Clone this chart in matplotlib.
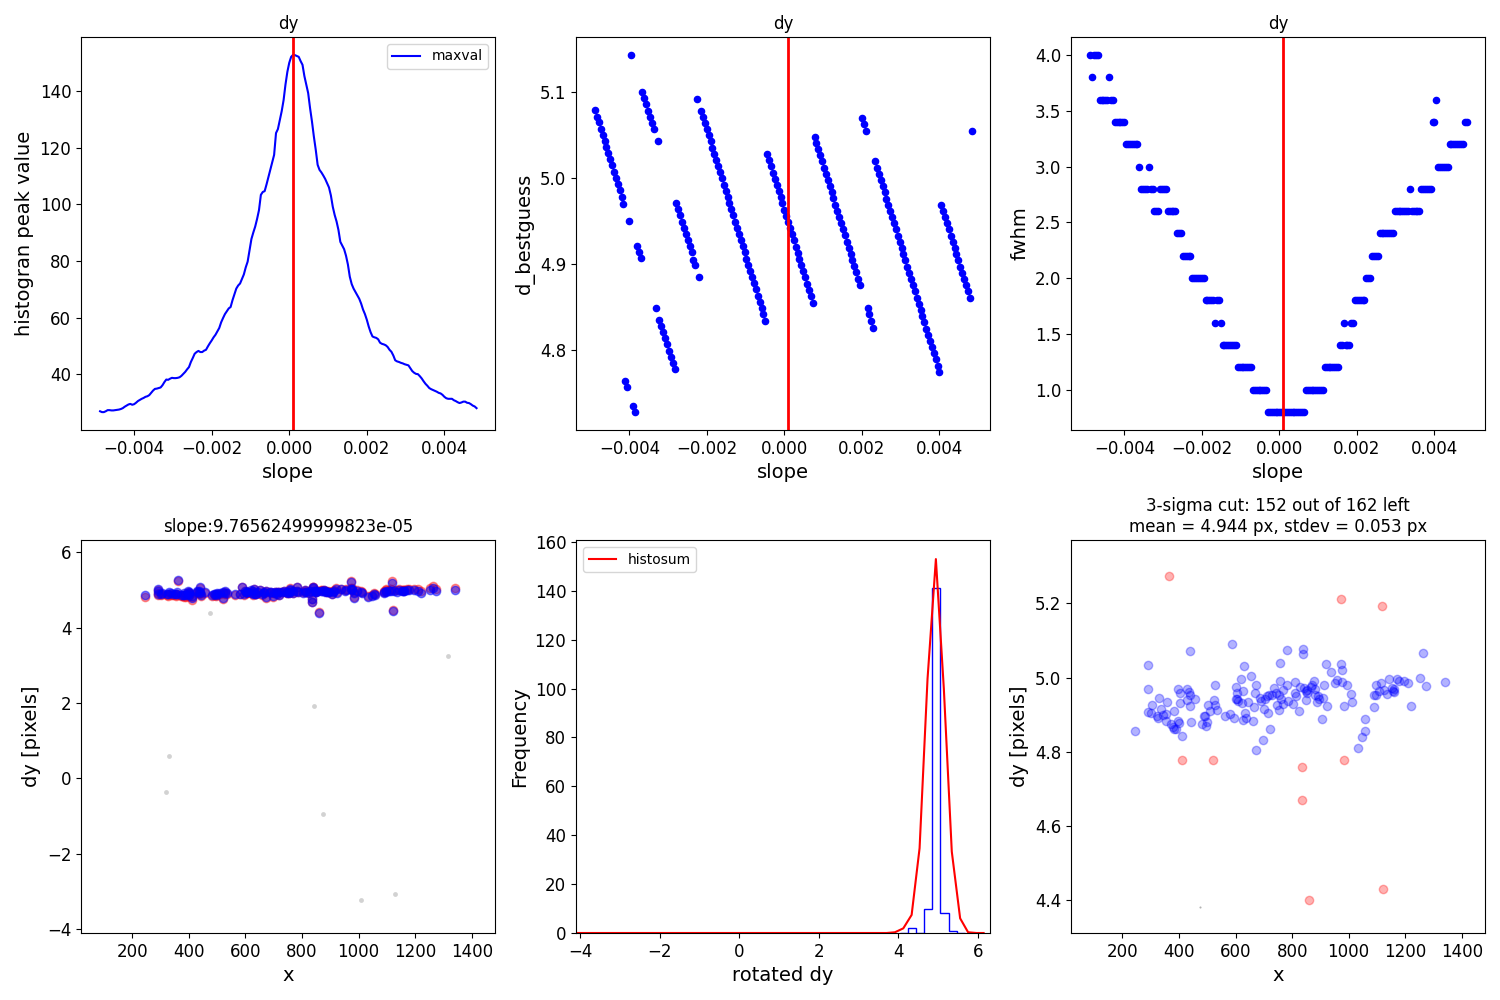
import numpy as np
import matplotlib
matplotlib.use("Agg")
import matplotlib.pyplot as plt

# ---------------- data ----------------
SLOPE_STEP = 4.8828125e-05
SLOPES = np.arange(-100, 100) * SLOPE_STEP
BEST_SLOPE = 9.76562499999823e-05

MAXVAL = [
    27.0, 26.7, 26.7, 27.0, 27.4, 27.4, 27.3, 27.3, 27.4, 27.5,
    27.6, 27.8, 28.1, 28.6, 29.0, 29.4, 29.6, 29.3, 29.5, 30.0,
    30.6, 31.0, 31.4, 31.7, 32.1, 32.3, 32.7, 33.5, 34.3, 34.9,
    35.0, 35.2, 35.4, 36.2, 37.3, 38.2, 38.1, 38.5, 38.8, 38.7,
    38.7, 38.8, 39.0, 39.5, 40.2, 40.9, 41.8, 42.6, 44.4, 45.8,
    47.3, 47.9, 48.3, 47.9, 47.9, 48.4, 48.7, 49.9, 51.0, 52.0,
    53.1, 54.0, 55.2, 56.4, 58.4, 59.9, 61.3, 62.3, 63.3, 63.8,
    66.2, 68.3, 70.3, 71.4, 72.1, 73.7, 75.3, 77.8, 79.8, 83.9,
    87.8, 90.1, 92.2, 94.9, 98.0, 103.4, 104.4, 104.7, 107.1, 109.7,
    112.2, 114.8, 117.5, 125.2, 126.6, 129.7, 132.9, 136.8, 142.3, 146.8,
    150.0, 152.1, 152.8, 152.7, 152.4, 152.1, 150.6, 149.3, 145.3, 142.3,
    139.3, 134.0, 129.3, 124.0, 119.3, 114.0, 112.2, 111.3, 110.2, 109.0,
    107.5, 106.0, 103.2, 99.2, 96.3, 94.0, 91.0, 86.8, 85.5, 84.2,
    81.9, 78.8, 74.5, 71.9, 70.3, 69.1, 67.9, 66.7, 65.0, 62.9,
    61.3, 59.3, 56.9, 54.9, 53.4, 53.1, 52.9, 52.4, 51.2, 50.8,
    50.6, 50.3, 49.7, 48.7, 48.0, 46.7, 45.0, 44.6, 44.4, 44.1,
    43.9, 43.6, 43.4, 43.2, 42.2, 41.2, 40.6, 40.2, 40.1, 39.4,
    38.6, 37.6, 36.7, 36.0, 35.2, 34.8, 34.5, 34.2, 33.9, 33.5,
    33.3, 32.8, 32.1, 31.6, 31.4, 31.4, 31.4, 30.9, 30.6, 30.2,
    29.9, 30.1, 30.4, 30.4, 30.0, 29.9, 29.5, 29.0, 28.7, 28.1,
]

D_BESTGUESS = [
    5.079, 5.071, 5.065, 5.057, 5.050, 5.043, 5.036, 5.029, 5.022, 5.015,
    5.007, 5.000, 4.993, 4.986, 4.978, 4.970,
    4.764, 4.757, 4.950, 5.143, 4.735, 4.728, 4.921, 4.914, 4.907, 5.100,
    5.093, 5.086, 5.078, 5.071, 5.064, 5.057, 4.849, 5.043, 4.835, 4.828,
    4.821, 4.814, 4.807, 4.799, 4.792, 4.785, 4.778,
    4.971, 4.964, 4.957, 4.949, 4.942, 4.935, 4.928, 4.921, 4.914, 4.905,
    4.899,
    5.092, 4.885,
    5.078, 5.071, 5.064, 5.057, 5.050, 5.043, 5.035, 5.028, 5.021, 5.014,
    5.007, 5.000, 4.992, 4.985, 4.978, 4.971, 4.964, 4.957, 4.949, 4.942,
    4.935, 4.928, 4.921, 4.914, 4.906, 4.899, 4.892, 4.885, 4.878, 4.871,
    4.863, 4.856, 4.849, 4.842, 4.834,
    5.028, 5.021, 5.014, 5.006, 4.999, 4.992, 4.985, 4.978, 4.971, 4.963,
    4.956, 4.949, 4.942, 4.935, 4.928, 4.920, 4.913, 4.906, 4.899, 4.892,
    4.885, 4.877, 4.870, 4.863, 4.855,
    5.048, 5.041, 5.034, 5.027, 5.020, 5.012, 5.005, 4.998, 4.991, 4.984,
    4.977, 4.969, 4.962, 4.955, 4.948, 4.941, 4.934, 4.926, 4.919, 4.912,
    4.905, 4.898, 4.891, 4.883, 4.876,
    5.070, 5.063, 5.055,
    4.849, 4.842, 4.834, 4.826,
    5.020, 5.012, 5.005, 4.998, 4.991, 4.984, 4.976, 4.969, 4.962, 4.955,
    4.948, 4.941, 4.933, 4.926, 4.919, 4.912, 4.905, 4.897, 4.890, 4.883,
    4.876, 4.869, 4.861, 4.854, 4.847, 4.840, 4.833, 4.825, 4.818, 4.811,
    4.804, 4.797, 4.790, 4.782, 4.775,
    4.969, 4.962, 4.955, 4.948, 4.941, 4.933, 4.926, 4.919, 4.912, 4.905,
    4.897, 4.890, 4.883, 4.876, 4.869, 4.861,
    5.054,
]

FWHM = [
    4.0, 3.8, 4.0, 4.0, 4.0, 3.6, 3.6, 3.6, 3.6, 3.6,
    3.8, 3.6, 3.6, 3.4, 3.4, 3.4, 3.4, 3.4, 3.4, 3.2,
    3.2, 3.2, 3.2, 3.2, 3.2, 3.2, 3.0, 2.8, 2.8, 2.8,
    2.8, 3.0, 2.8, 2.8, 2.6, 2.6, 2.6, 2.8, 2.8, 2.8,
    2.8, 2.6, 2.6, 2.6, 2.6, 2.6, 2.4, 2.4, 2.4, 2.2,
    2.2, 2.2, 2.2, 2.2, 2.0, 2.0, 2.0, 2.0, 2.0, 2.0,
    2.0, 1.8, 1.8, 1.8, 1.8, 1.8, 1.6, 1.8, 1.8, 1.6,
    1.4, 1.4, 1.4, 1.4, 1.4, 1.4, 1.4, 1.4, 1.2, 1.2,
    1.2, 1.2, 1.2, 1.2, 1.2, 1.2, 1.0, 1.0, 1.0, 1.0,
    1.0, 1.0, 1.0, 1.0, 0.8, 0.8, 0.8, 0.8, 0.8, 0.8,
    0.8, 0.8, 0.8, 0.8, 0.8, 0.8, 0.8, 0.8, 0.8, 0.8,
    0.8, 0.8, 0.8, 0.8, 1.0, 1.0, 1.0, 1.0, 1.0, 1.0,
    1.0, 1.0, 1.0, 1.0, 1.2, 1.2, 1.2, 1.2, 1.2, 1.2,
    1.2, 1.2, 1.4, 1.4, 1.6, 1.4, 1.4, 1.4, 1.6, 1.6,
    1.8, 1.8, 1.8, 1.8, 1.8, 1.8, 2.0, 2.0, 2.0, 2.2,
    2.2, 2.2, 2.2, 2.4, 2.4, 2.4, 2.4, 2.4, 2.4, 2.4,
    2.4, 2.6, 2.6, 2.6, 2.6, 2.6, 2.6, 2.6, 2.6, 2.8,
    2.6, 2.6, 2.6, 2.6, 2.6, 2.8, 2.8, 2.8, 2.8, 2.8,
    2.8, 3.4, 3.4, 3.6, 3.0, 3.0, 3.0, 3.0, 3.0, 3.0,
    3.2, 3.2, 3.2, 3.2, 3.2, 3.2, 3.2, 3.2, 3.4, 3.4,
]

# points kept after the 3-sigma cut (x, rotated dy)
X_KEPT = [
    244, 289, 289, 292, 302, 306, 322, 326, 331, 335,
    345, 355, 355, 359, 372, 378, 384, 384, 390, 395,
    397, 401, 402, 402, 412, 427, 429, 434, 438, 440,
    444, 457, 438, 480, 488, 493, 495, 499, 501, 509,
    522, 526, 529, 536, 563, 586, 581, 593, 600, 606,
    605, 607, 618, 625, 622, 625, 631, 632, 637, 644,
    653, 660, 664, 667, 674, 674, 686, 691, 698, 702,
    704, 711, 713, 717, 720, 728, 735, 744, 748, 752,
    755, 758, 758, 759, 768, 769, 781, 782, 785, 802,
    810, 811, 815, 823, 827, 837, 838, 842, 848, 849,
    851, 868, 871, 877, 880, 882, 887, 892, 895, 905,
    909, 912, 919, 922, 936, 952, 957, 972, 977, 978,
    982, 993, 1007, 1011, 1032, 1046, 1056, 1057, 1089, 1089,
    1096, 1098, 1107, 1115, 1126, 1135, 1142, 1152, 1156, 1159,
    1170, 1178, 1195, 1210, 1220, 1251, 1263, 1274, 1341, 602,
    853, 1159,
]
DY_KEPT = [
    4.855, 5.034, 4.968, 4.906, 4.905, 4.926, 4.897, 4.891, 4.945, 4.915,
    4.899, 4.903, 4.883, 4.934, 4.874, 4.867, 4.861, 4.910, 4.861, 4.968,
    4.883, 4.877, 4.958, 4.931, 4.842, 4.969, 4.939, 4.961, 4.922, 4.952,
    4.880, 4.941, 5.071, 4.875, 4.897, 4.897, 4.870, 4.881, 4.926, 4.909,
    4.940, 4.979, 4.925, 4.912, 4.896, 5.090, 4.902, 4.890, 4.974, 4.958,
    4.941, 4.938, 4.996, 4.964, 4.931, 4.885, 5.030, 4.905, 4.892, 4.934,
    5.003, 4.882, 4.920, 4.958, 4.979, 4.804, 4.946, 4.936, 4.831, 4.915,
    4.943, 4.950, 4.905, 4.954, 4.861, 4.952, 4.971, 4.958, 4.925, 4.953,
    4.913, 5.039, 4.991, 4.942, 4.967, 4.929, 5.074, 4.980, 4.938, 4.928,
    4.987, 4.958, 4.949, 4.910, 4.975, 5.077, 5.064, 4.971, 4.939, 4.964,
    4.959, 4.975, 4.979, 4.992, 4.968, 4.953, 4.934, 4.949, 4.941, 4.888,
    4.945, 4.979, 5.036, 4.923, 5.014, 4.985, 4.993, 5.036, 5.020, 4.989,
    4.923, 4.979, 4.955, 4.933, 4.809, 4.839, 4.888, 4.855, 4.920, 4.952,
    4.979, 4.954, 4.965, 4.985, 4.967, 4.955, 4.995, 4.971, 4.965, 4.961,
    4.995, 4.991, 4.992, 4.985, 4.923, 4.998, 5.065, 4.976, 4.987, 4.943,
    4.967, 4.968,
]
# points rejected by the 3-sigma cut
X_REJ = [363, 972, 1119, 412, 519, 982, 834, 834, 1123, 861]
DY_REJ = [5.273, 5.213, 5.192, 4.777, 4.777, 4.777, 4.758, 4.669, 4.430, 4.400]
# points excluded before the fit
X_GRAY = [473, 1315, 844, 331, 320, 873, 1007, 1127]
DY_GRAY = [4.38, 3.24, 1.91, 0.58, -0.37, -0.96, -3.24, -3.08]

# histogram of rotated dy
HIST_EDGES = [4.05, 4.25, 4.45, 4.66, 4.86, 5.06, 5.27, 5.47, 5.67]
HIST_COUNTS = [0, 2, 0, 10, 141, 8, 1, 0]
HISTOSUM_X = [-4.08, 3.71, 3.92, 4.13, 4.34, 4.54, 4.74, 4.95, 5.15, 5.35, 5.56, 5.76, 5.97, 6.15]
HISTOSUM_Y = [0, 0, 0.3, 1.9, 7.4, 34.7, 104, 153, 100, 33.3, 6.0, 0.3, 0, 0]

TITLE_BR = "3-sigma cut: 152 out of 162 left\nmean = 4.944 px, stdev = 0.053 px"

# ---------------- plotting ----------------
plt.rcParams['font.family'] = ['DejaVu Sans']
plt.rcParams['xtick.labelsize'] = 12
plt.rcParams['ytick.labelsize'] = 12

fig, axes = plt.subplots(2, 3, figsize=(15, 10), dpi=100)
fig.subplots_adjust(left=0.054, right=0.99, top=0.963, bottom=0.067,
                    wspace=0.196, hspace=0.28)
LBL = 14
TTL = 12

# top-left
ax = axes[0, 0]
ax.plot(SLOPES, MAXVAL, color='blue', lw=1.5, label='maxval')
ax.axvline(BEST_SLOPE, color='red', lw=2)
ax.set_title('dy', fontsize=TTL)
ax.set_xlabel('slope', fontsize=LBL)
ax.set_ylabel('histogran peak value', fontsize=LBL)
ax.legend(loc='upper right', fontsize=10)

# top-middle
ax = axes[0, 1]
ax.scatter(SLOPES, D_BESTGUESS, color='blue', s=20)
ax.axvline(BEST_SLOPE, color='red', lw=2)
ax.set_title('dy', fontsize=TTL)
ax.set_xlabel('slope', fontsize=LBL)
ax.set_ylabel('d_bestguess', fontsize=LBL)

# top-right
ax = axes[0, 2]
ax.scatter(SLOPES, FWHM, color='blue', s=20)
ax.axvline(BEST_SLOPE, color='red', lw=2)
ax.set_title('dy', fontsize=TTL)
ax.set_xlabel('slope', fontsize=LBL)
ax.set_ylabel('fwhm', fontsize=LBL)

for ax in axes[0]:
    ax.set_xlim(-0.005375, 0.005308)

# bottom-left
x_all = np.array(X_KEPT + X_REJ, dtype=float)
dy_all = np.array(DY_KEPT + DY_REJ, dtype=float)
dy_orig = dy_all + BEST_SLOPE * (x_all - x_all.mean())
ax = axes[1, 0]
ax.plot(X_GRAY, DY_GRAY, 'o', color='gray', alpha=0.35, ms=3.5, mec='none')
ax.plot(x_all, dy_orig, 'o', color='red', alpha=0.4, ms=6)
ax.plot(x_all, dy_all, 'o', color='blue', alpha=0.5, ms=6)
ax.set_title('slope:9.76562499999823e-05', fontsize=TTL)
ax.set_xlabel('x', fontsize=LBL)
ax.set_ylabel('dy [pixels]', fontsize=LBL)
ax.set_xlim(18.4, 1482)
ax.set_ylim(-4.106, 6.327)

# bottom-middle
ax = axes[1, 1]
ax.stairs(HIST_COUNTS, HIST_EDGES, color='blue', lw=1)
ax.plot(HISTOSUM_X, HISTOSUM_Y, color='red', lw=1.5, label='histosum')
ax.set_xlabel('rotated dy', fontsize=LBL)
ax.set_ylabel('Frequency', fontsize=LBL)
ax.set_xlim(-4.10, 6.31)
ax.set_ylim(0, 160.8)
ax.legend(loc='upper left', fontsize=10)

# bottom-right
ax = axes[1, 2]
ax.plot(X_KEPT, DY_KEPT, 'o', color='blue', alpha=0.3, ms=6)
ax.plot(X_REJ, DY_REJ, 'o', color='red', alpha=0.3, ms=6)
ax.plot(X_GRAY, DY_GRAY, 'o', color='gray', alpha=0.6, ms=1.5, mec='none')
ax.set_title(TITLE_BR, fontsize=TTL)
ax.set_xlabel('x', fontsize=LBL)
ax.set_ylabel('dy [pixels]', fontsize=LBL)
ax.set_xlim(18.4, 1482)
ax.set_ylim(4.311, 5.371)

fig.savefig('out.png', dpi=100)
